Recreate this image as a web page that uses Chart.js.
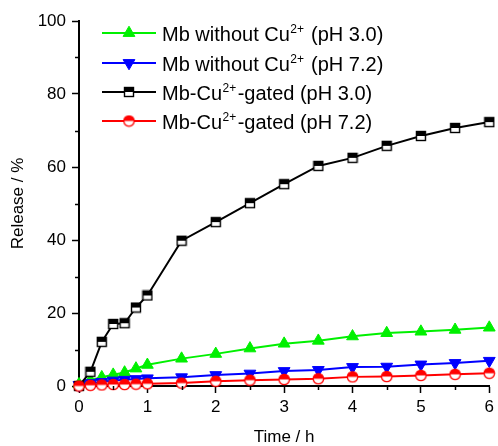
<!DOCTYPE html>
<html>
<head>
<meta charset="utf-8">
<script src="https://cdn.jsdelivr.net/npm/chart.js@4"></script>
<style>
  html, body { margin: 0; padding: 0; background: #fff; }
  #wrap { width: 498px; height: 446px; }
</style>
</head>
<body>
<div id="wrap"><canvas id="releaseChart" width="498" height="446"></canvas></div>
<script>
// time points (h)
const times = [0, 0.167, 0.333, 0.5, 0.667, 0.833, 1, 1.5, 2, 2.5, 3, 3.5, 4, 4.5, 5, 5.5, 6];

// release (%) per series
const mbPh30 = [0.5, 1.6, 2.4, 3.1, 3.7, 4.8, 5.8, 7.5, 8.8, 10.3, 11.6, 12.4, 13.6, 14.5, 14.9, 15.4, 16.0];
const mbPh72 = [0.3, 0.8, 1.1, 1.5, 1.7, 1.9, 2.1, 2.4, 3.0, 3.4, 4.1, 4.4, 5.2, 5.3, 5.9, 6.3, 6.9];
const gatedPh30 = [0, 3.9, 12.1, 17.0, 17.2, 21.5, 24.8, 39.8, 44.9, 50.1, 55.3, 60.3, 62.5, 65.8, 68.5, 70.7, 72.3];
const gatedPh72 = [0, 0.2, 0.3, 0.4, 0.4, 0.5, 0.6, 0.8, 1.3, 1.6, 1.8, 2.0, 2.5, 2.6, 2.9, 3.2, 3.5];

// legend labels: [text, superscript, rest]
const labels = [
    ["Mb without Cu", "2+", " (pH 3.0)"],
    ["Mb without Cu", "2+", " (pH 7.2)"],
    ["Mb-Cu", "2+", "-gated (pH 3.0)"],
    ["Mb-Cu", "2+", "-gated (pH 7.2)"],
];

const yTicks = [0, 20, 40, 60, 80, 100];
const xTicks = [0, 1, 2, 3, 4, 5, 6];

const FONT = "'Liberation Sans', Arial, sans-serif";

// half-filled square marker (top black, bottom white)
function halfSquare() {
    const c = document.createElement("canvas");
    c.width = 12; c.height = 12;
    const g = c.getContext("2d");
    g.fillStyle = "#fff";
    g.fillRect(1, 1, 10, 10);
    g.fillStyle = "#000";
    g.fillRect(1, 1, 10, 5);
    g.strokeStyle = "#000";
    g.lineWidth = 1.4;
    g.strokeRect(1.5, 1.5, 9, 9);
    return c;
}

// half-filled circle marker (top red, bottom white)
function halfCircle() {
    const c = document.createElement("canvas");
    c.width = 13; c.height = 13;
    const g = c.getContext("2d");
    g.fillStyle = "#fff";
    g.beginPath(); g.arc(6.5, 6.5, 5.2, 0, Math.PI * 2); g.fill();
    g.fillStyle = "#ff0000";
    g.beginPath(); g.arc(6.5, 6.5, 5.2, Math.PI, Math.PI * 2); g.closePath(); g.fill();
    g.strokeStyle = "#ff0000";
    g.lineWidth = 1.3;
    g.beginPath(); g.arc(6.5, 6.5, 5.2, 0, Math.PI * 2); g.stroke();
    return c;
}

const sqImg = halfSquare();
const ciImg = halfCircle();

function toXY(vals) {
    return vals.map((v, i) => ({ x: times[i], y: v }));
}

const datasets = [
    { data: toXY(mbPh30), borderColor: "#00f000", backgroundColor: "#00f000",
      pointStyle: "triangle", pointRadius: 6.8, pointRotation: 0, order: 3 },
    { data: toXY(mbPh72), borderColor: "#0000ff", backgroundColor: "#0000ff",
      pointStyle: "triangle", pointRadius: 6.8, pointRotation: 180, order: 2 },
    { data: toXY(gatedPh30), borderColor: "#000", backgroundColor: "#000",
      pointStyle: sqImg, order: 1 },
    { data: toXY(gatedPh72), borderColor: "#ff0000", backgroundColor: "#ff0000",
      pointStyle: ciImg, order: 0 },
].map(d => Object.assign({ borderWidth: 2, pointBorderWidth: 1, clip: false, tension: 0 }, d));

// minor ticks + inside legend
const extras = {
    id: "extras",
    afterDraw(chart) {
        const ctx = chart.ctx;
        const xs = chart.scales.x, ys = chart.scales.y;
        const area = chart.chartArea;
        ctx.save();
        ctx.strokeStyle = "#000";
        ctx.lineWidth = 1.5;
        [10, 30, 50, 70, 90].forEach(v => {
            const p = Math.round(ys.getPixelForValue(v)) + 0.5;
            ctx.beginPath(); ctx.moveTo(area.left - 4, p); ctx.lineTo(area.left, p); ctx.stroke();
        });
        [0.5, 1.5, 2.5, 3.5, 4.5, 5.5].forEach(v => {
            const p = Math.round(xs.getPixelForValue(v)) + 0.5;
            ctx.beginPath(); ctx.moveTo(p, area.bottom); ctx.lineTo(p, area.bottom + 4); ctx.stroke();
        });

        // legend
        const rows = [33, 63, 92, 121];
        datasets.forEach((ds, i) => {
            const y = rows[i];
            ctx.strokeStyle = ds.borderColor;
            ctx.fillStyle = ds.backgroundColor;
            ctx.lineWidth = 2;
            ctx.beginPath(); ctx.moveTo(102, y); ctx.lineTo(156, y); ctx.stroke();
            ctx.lineWidth = 1;
            Chart.helpers.drawPoint(ctx, {
                pointStyle: ds.pointStyle, radius: ds.pointRadius || 5,
                rotation: ds.pointRotation || 0, borderWidth: 1
            }, 129, y);
            const [a, sup, b] = labels[i];
            ctx.fillStyle = "#000";
            ctx.textBaseline = "alphabetic";
            ctx.textAlign = "left";
            let x = 162;
            ctx.font = "20px " + FONT;
            ctx.fillText(a, x, y + 7.5);
            x += ctx.measureText(a).width;
            ctx.font = "12px " + FONT;
            ctx.fillText(sup, x + 0.5, y - 0.5);
            x += ctx.measureText(sup).width + 2;
            ctx.font = "20px " + FONT;
            ctx.fillText(b, x, y + 7.5);
        });
        ctx.restore();
    }
};

new Chart(document.getElementById("releaseChart"), {
    type: "line",
    data: { datasets: datasets },
    options: {
        responsive: false,
        animation: false,
        layout: { padding: { top: 21, right: 7, left: 0, bottom: 0 } },
        plugins: { legend: { display: false }, tooltip: { enabled: false } },
        scales: {
            x: {
                type: "linear", min: 0, max: 6,
                afterFit: s => { s.height = 60; },
                afterBuildTicks: s => { s.ticks = xTicks.map(v => ({ value: v })); },
                grid: { drawOnChartArea: false, drawTicks: true, tickLength: 7, tickColor: "#000", tickWidth: 1.5 },
                border: { display: true, color: "#000", width: 2 },
                ticks: { color: "#000", font: { family: FONT, size: 17 }, padding: 4, maxRotation: 0 },
                title: { display: true, text: "Time / h", color: "#000",
                         font: { family: FONT, size: 17, lineHeight: 1 }, padding: { top: 0, bottom: 0 } }
            },
            y: {
                type: "linear", min: 0, max: 100,
                afterFit: s => { s.width = 79; },
                afterBuildTicks: s => { s.ticks = yTicks.map(v => ({ value: v })); },
                grid: { drawOnChartArea: false, drawTicks: true, tickLength: 7, tickColor: "#000", tickWidth: 1.5 },
                border: { display: true, color: "#000", width: 2 },
                ticks: { color: "#000", font: { family: FONT, size: 17 }, padding: 6 },
                title: { display: true, text: "Release / %", color: "#000",
                         font: { family: FONT, size: 17, lineHeight: 1 }, padding: { top: 10, bottom: 0 } }
            }
        }
    },
    plugins: [extras]
});
</script>
</body>
</html>
